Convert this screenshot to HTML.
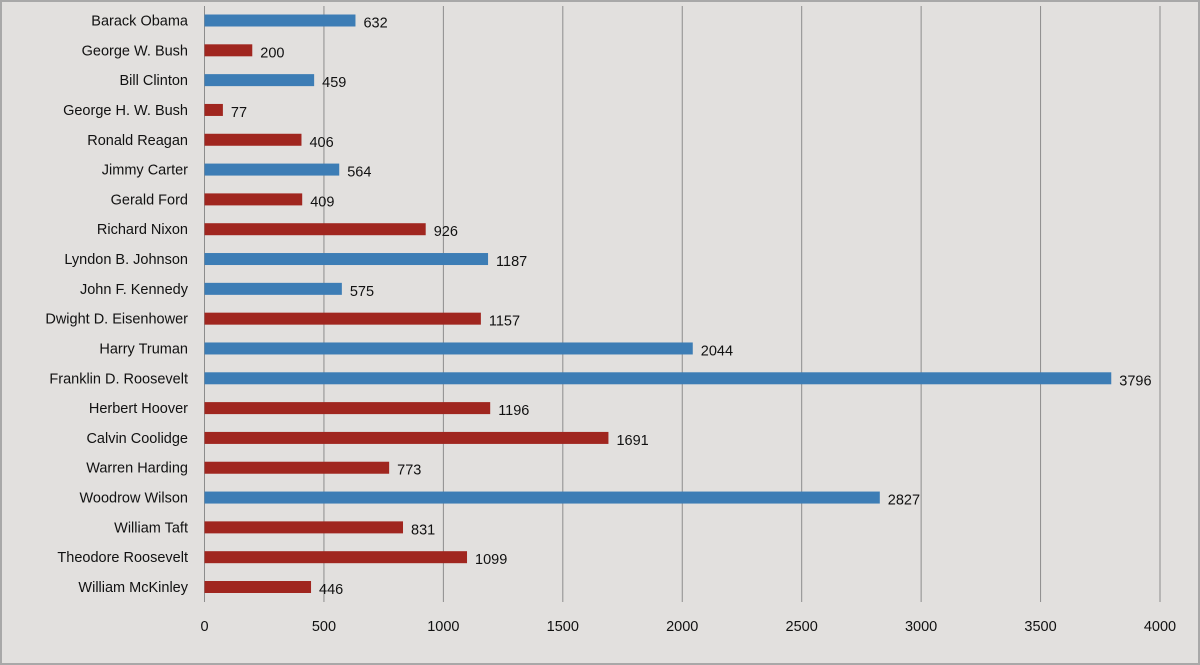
<!DOCTYPE html>
<html><head><meta charset="utf-8"><style>
html,body{margin:0;padding:0;background:#e2e0de}
svg{display:block}
text{font-family:"Liberation Sans",sans-serif;font-size:14.5px;fill:#111}
</style></head><body>
<svg width="1200" height="665">
<rect x="1" y="1" width="1198" height="663" fill="#e2e0de" stroke="#a8a8a8" stroke-width="2"/>
<g id="grid"></g><g id="bars"></g><g id="labels"></g>
</svg>
<script>
const categories=["Barack Obama","George W. Bush","Bill Clinton","George H. W. Bush","Ronald Reagan","Jimmy Carter","Gerald Ford","Richard Nixon","Lyndon B. Johnson","John F. Kennedy","Dwight D. Eisenhower","Harry Truman","Franklin D. Roosevelt","Herbert Hoover","Calvin Coolidge","Warren Harding","Woodrow Wilson","William Taft","Theodore Roosevelt","William McKinley"];
const values=[632,200,459,77,406,564,409,926,1187,575,1157,2044,3796,1196,1691,773,2827,831,1099,446];
const parties=["D","R","D","R","R","D","R","R","D","D","R","D","D","R","R","R","D","R","R","R"];
const ticks=[0,500,1000,1500,2000,2500,3000,3500,4000];
const NS="http://www.w3.org/2000/svg";
const x=v=>204.5+v*(1160-204.5)/4000;
const y=i=>20.5+i*(587-20.5)/19;
function mk(tag,attrs,parent,txt){const e=document.createElementNS(NS,tag);for(const k in attrs)e.setAttribute(k,attrs[k]);if(txt!==undefined)e.textContent=txt;document.getElementById(parent).appendChild(e);return e;}
ticks.forEach(t=>{
 const l=mk('line',{x1:x(t),x2:x(t),y1:6,y2:602,stroke:'#8c8c8c','stroke-width':1},'grid');
 
 
 const tx=mk('text',{x:x(t),y:631,'text-anchor':'middle'},'labels',String(t));
 
 
});
categories.forEach((c,i)=>{
 const cy=y(i);
 const r=mk('rect',{x:x(0),y:cy-6,width:x(values[i])-x(0),height:12,fill:parties[i]==='D'?'#3d7db5':'#a0261f'},'bars');
 
 
 const n=mk('text',{x:188,y:cy+5,'text-anchor':'end'},'labels',c);
 
 
 const v=mk('text',{x:x(values[i])+8,y:cy+7},'labels',String(values[i]));
 
 
});
</script>
</body></html>
